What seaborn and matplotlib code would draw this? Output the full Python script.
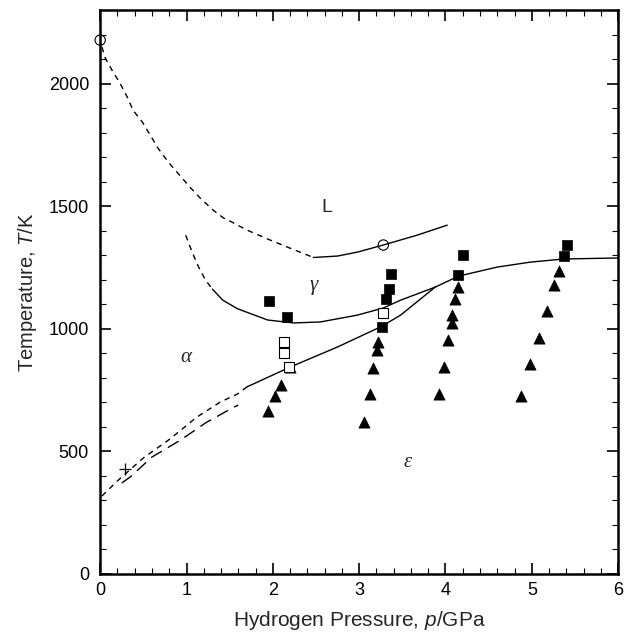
"""Diagrama de fases Fe-H (temperatura x pressao de hidrogenio)"""

import matplotlib
matplotlib.use("Agg")
import matplotlib.pyplot as plt
from matplotlib.ticker import MultipleLocator
import seaborn as sns

# Fronteira L (parte tracejada e parte continua)
l_trac_x = [0.02, 0.06, 0.15, 0.23, 0.32, 0.38, 0.49, 0.58, 0.67, 0.79, 0.90, 1.04, 1.16, 1.31, 1.43, 1.48, 1.70, 1.97, 2.20, 2.40, 2.47]
l_trac_y = [2150, 2104, 2047, 2002, 1941, 1892, 1843, 1790, 1737, 1680, 1635, 1578, 1533, 1484, 1452, 1444, 1403, 1362, 1329, 1301, 1291]
l_cont_x = [2.47, 2.75, 2.98, 3.28, 3.67, 4.02]
l_cont_y = [1291, 1297, 1313, 1342, 1382, 1423]

# Fronteira alfa/gama
ag_trac_x = [0.99, 1.07, 1.14, 1.22, 1.30]
ag_trac_y = [1382, 1309, 1252, 1199, 1162]
ag_cont_x = [1.30, 1.42, 1.59, 1.94, 2.24, 2.55, 2.98, 3.28, 3.48, 3.88]
ag_cont_y = [1162, 1117, 1082, 1036, 1024, 1028, 1056, 1085, 1117, 1170]

# Fronteira alfa/epsilon
ae_trac_x = [0.02, 0.21, 0.50, 0.81, 1.12, 1.39, 1.59, 1.70]
ae_trac_y = [318, 383, 473, 551, 640, 701, 734, 763]
ae_cont_x = [1.70, 2.20, 2.75, 3.26, 3.48, 3.88]
ae_cont_y = [763, 844, 926, 1010, 1056, 1170]

# Fronteira gama/epsilon
ge_x = [3.88, 4.15, 4.60, 4.98, 5.37, 6.00]
ge_y = [1170, 1215, 1252, 1272, 1285, 1289]

# Segunda curva tracejada (tracos longos)
alt_x = [0.25, 0.35, 0.60, 0.93, 1.22, 1.53, 1.60]
alt_y = [371, 396, 477, 546, 616, 677, 689]

# Pontos experimentais
quad_cheio_x = [1.96, 2.16, 3.26, 3.31, 3.34, 3.37, 4.15, 4.20, 5.37, 5.41]
quad_cheio_y = [1113, 1048, 1007, 1121, 1162, 1223, 1219, 1301, 1297, 1342]
quad_vazio_x = [2.13, 2.13, 2.19, 3.28]
quad_vazio_y = [946, 901, 844, 1064]
tri_x = [1.94, 2.03, 2.09, 2.20,
         3.06, 3.12, 3.16, 3.21, 3.22,
         3.93, 3.98, 4.03, 4.07, 4.08, 4.11, 4.14,
         4.87, 4.98, 5.08, 5.18, 5.26, 5.32]
tri_y = [665, 726, 771, 844,
         620, 734, 840, 913, 946,
         734, 844, 954, 1024, 1056, 1121, 1170,
         726, 856, 962, 1072, 1178, 1236]
circ_x = [0.0, 3.28]
circ_y = [2178, 1342]
cruz_x = [0.29]
cruz_y = [428]

# Rotulos das fases
fases = ["L", "γ", "α", "ε"]
fases_x = [2.63, 2.47, 0.99, 3.56]
fases_y = [1497, 1178, 885, 453]

sns.set_theme(style="ticks")
plt.rcParams["font.family"] = ["Liberation Sans", "DejaVu Sans"]
plt.rcParams["mathtext.fontset"] = "custom"
plt.rcParams["mathtext.it"] = "Liberation Sans:italic"
plt.rcParams["mathtext.rm"] = "Liberation Sans"

fig = plt.figure(figsize=(6.34, 6.37), dpi=100)
ax = fig.add_axes([0.158, 0.099, 0.817, 0.885])

trac = (0, (4, 3.5))
kw = dict(color="black", lw=1.0, sort=False, estimator=None, ax=ax)
sns.lineplot(x=l_trac_x, y=l_trac_y, ls=trac, **kw)
sns.lineplot(x=l_cont_x, y=l_cont_y, **kw)
sns.lineplot(x=ag_trac_x, y=ag_trac_y, ls=trac, **kw)
sns.lineplot(x=ag_cont_x, y=ag_cont_y, **kw)
sns.lineplot(x=ae_trac_x, y=ae_trac_y, ls=trac, **kw)
sns.lineplot(x=ae_cont_x, y=ae_cont_y, **kw)
sns.lineplot(x=ge_x, y=ge_y, **kw)
sns.lineplot(x=alt_x, y=alt_y, ls=(0, (9, 5)), **kw)

# Marcadores
sns.scatterplot(x=tri_x, y=tri_y, marker="^", s=65, color="black", edgecolor="black", linewidth=0.5, ax=ax, zorder=3)
sns.scatterplot(x=quad_cheio_x, y=quad_cheio_y, marker="s", s=60, color="black", edgecolor="black", linewidth=0.5, ax=ax, zorder=3)
sns.scatterplot(x=quad_vazio_x, y=quad_vazio_y, marker="s", s=60, facecolor="white", edgecolor="black", linewidth=0.8, ax=ax, zorder=4)
sns.scatterplot(x=circ_x, y=circ_y, marker="o", s=55, facecolor="none", edgecolor="black", linewidth=0.8, ax=ax, zorder=4, clip_on=False)
sns.scatterplot(x=cruz_x, y=cruz_y, marker="+", s=70, color="black", linewidth=0.9, ax=ax, zorder=4)

# Rotulos das fases
for nome, fx, fy in zip(fases, fases_x, fases_y):
    if nome == "L":
        ax.text(fx, fy, nome, fontsize=14, ha="center", va="center")
    else:
        ax.text(fx, fy, nome, fontsize=15, ha="center", va="center",
                family=["Liberation Serif", "DejaVu Serif"], style="italic")

# Eixos
ax.set_xlim(0, 6)
ax.set_ylim(0, 2300)
ax.xaxis.set_major_locator(MultipleLocator(1))
ax.xaxis.set_minor_locator(MultipleLocator(0.2))
ax.yaxis.set_major_locator(MultipleLocator(500))
ax.yaxis.set_minor_locator(MultipleLocator(100))
ax.tick_params(which="both", direction="in", top=True, right=True, colors="black", labelsize=13)
ax.tick_params(which="major", length=8, width=1.2)
ax.tick_params(which="minor", length=4, width=0.8)
ax.tick_params(axis="x", pad=6)
ax.tick_params(axis="y", pad=8)
for s in ax.spines.values():
    s.set_linewidth(1.8)
    s.set_color("black")

ax.set_xlabel("Hydrogen Pressure, $\\mathit{p}$/GPa", fontsize=15, labelpad=7)
ax.set_ylabel("Temperature, $\\mathit{T}$/K", fontsize=14.5, labelpad=7)

fig.savefig("out.png", dpi=100, facecolor="white")
